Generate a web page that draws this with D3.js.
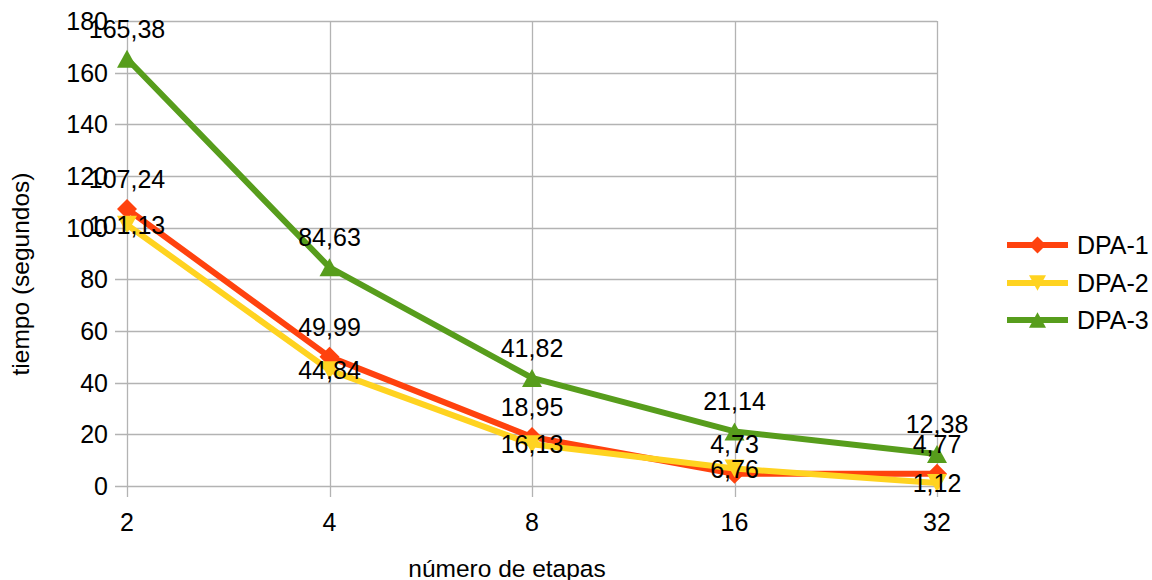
<!DOCTYPE html>
<html>
<head>
<meta charset="utf-8">
<script src="https://cdn.jsdelivr.net/npm/d3@7"></script>
<style>
  html, body { margin: 0; padding: 0; background: #fff; }
  svg { display: block; font-family: "Liberation Sans", Arial, sans-serif; }
</style>
</head>
<body>
<svg id="chart" width="1152" height="580"></svg>
<script>
// Stages (x categories) and run times per algorithm, in seconds
const etapas = ["2", "4", "8", "16", "32"];
const dpa1 = [107.24, 49.99, 18.95, 4.73, 4.77];
const dpa2 = [101.13, 44.84, 16.13, 6.76, 1.12];
const dpa3 = [165.38, 84.63, 41.82, 21.14, 12.38];
const yTicks = [0, 20, 40, 60, 80, 100, 120, 140, 160, 180];
const seriesNames = ["DPA-1", "DPA-2", "DPA-3"];

const series = [
  { name: seriesNames[0], values: dpa1, color: "#ff420e", marker: "diamond", labelPos: "above" },
  { name: seriesNames[1], values: dpa2, color: "#ffd320", marker: "down", labelPos: "center" },
  { name: seriesNames[2], values: dpa3, color: "#579d1c", marker: "up", labelPos: "above" }
];

const svg = d3.select("#chart");
const grid = "#b3b3b3";
const fontSize = 25;

const x = d3.scalePoint().domain(etapas).range([127, 937]);
const y = d3.scaleLinear().domain([0, 180]).range([486, 21]);

// Horizontal grid lines with small ticks to the left
const gY = svg.append("g");
gY.selectAll("line.grid").data(yTicks).join("line")
  .attr("x1", 115).attr("x2", 937)
  .attr("y1", d => Math.round(y(d)) + 0.5).attr("y2", d => Math.round(y(d)) + 0.5)
  .attr("stroke", grid).attr("stroke-width", 1.3);
gY.selectAll("text").data(yTicks).join("text")
  .attr("x", 108).attr("y", d => y(d) + 9)
  .attr("text-anchor", "end").attr("font-size", fontSize).attr("fill", "#000")
  .text(d => d);

// Vertical grid lines at each category, extending below the axis as ticks
const gX = svg.append("g");
gX.selectAll("line").data(etapas).join("line")
  .attr("x1", d => Math.round(x(d)) + 0.5).attr("x2", d => Math.round(x(d)) + 0.5)
  .attr("y1", y(180)).attr("y2", 497)
  .attr("stroke", grid).attr("stroke-width", 1.3);
gX.selectAll("text").data(etapas).join("text")
  .attr("x", d => x(d)).attr("y", 531)
  .attr("text-anchor", "middle").attr("font-size", fontSize).attr("fill", "#000")
  .text(d => d);

// Axis titles
svg.append("text")
  .attr("x", 507).attr("y", 577)
  .attr("text-anchor", "middle").attr("font-size", 24.5).attr("fill", "#000")
  .text("número de etapas");
svg.append("text")
  .attr("transform", "translate(29,274) rotate(-90)")
  .attr("text-anchor", "middle").attr("font-size", 24.5).attr("fill", "#000")
  .text("tiempo (segundos)");

// Marker path generators
function markerPath(type, cx, cy, r) {
  if (type === "diamond") {
    return `M${cx},${cy - r}L${cx + r},${cy}L${cx},${cy + r}L${cx - r},${cy}Z`;
  } else if (type === "down") {
    return `M${cx - r},${cy - r * 0.9}L${cx + r},${cy - r * 0.9}L${cx},${cy + r * 0.9}Z`;
  } else {
    return `M${cx - r},${cy + r * 0.9}L${cx + r},${cy + r * 0.9}L${cx},${cy - r * 0.9}Z`;
  }
}

const line = d3.line()
  .x((d, i) => x(etapas[i]))
  .y(d => y(d));

const gS = svg.append("g");
series.forEach(s => {
  const g = gS.append("g");
  g.append("path")
    .attr("d", line(s.values))
    .attr("fill", "none").attr("stroke", s.color)
    .attr("stroke-width", 6).attr("stroke-linejoin", "round");
  g.selectAll("path.m").data(s.values).join("path")
    .attr("class", "m")
    .attr("d", (d, i) => markerPath(s.marker, x(etapas[i]), y(d), 10))
    .attr("fill", s.color);
});

// Data value labels (decimal comma)
const fmt = v => d3.format(".2f")(v).replace(".", ",");
const gL = svg.append("g");
series.forEach(s => {
  gL.selectAll(null).data(s.values).join("text")
    .attr("x", (d, i) => x(etapas[i]))
    .attr("y", d => s.labelPos === "above" ? y(d) - 21 : y(d) + 9)
    .attr("text-anchor", "middle").attr("font-size", fontSize).attr("fill", "#000")
    .text(d => fmt(d));
});

// Legend
const leg = svg.append("g");
const rows = [245, 283, 320];
series.forEach((s, i) => {
  const ry = rows[i];
  leg.append("line")
    .attr("x1", 1007).attr("x2", 1068).attr("y1", ry).attr("y2", ry)
    .attr("stroke", s.color).attr("stroke-width", 6);
  leg.append("path")
    .attr("d", markerPath(s.marker, 1037.5, ry, 8.5))
    .attr("fill", s.color);
  leg.append("text")
    .attr("x", 1077).attr("y", ry + 9)
    .attr("font-size", fontSize).attr("fill", "#000")
    .text(s.name);
});
</script>
</body>
</html>
